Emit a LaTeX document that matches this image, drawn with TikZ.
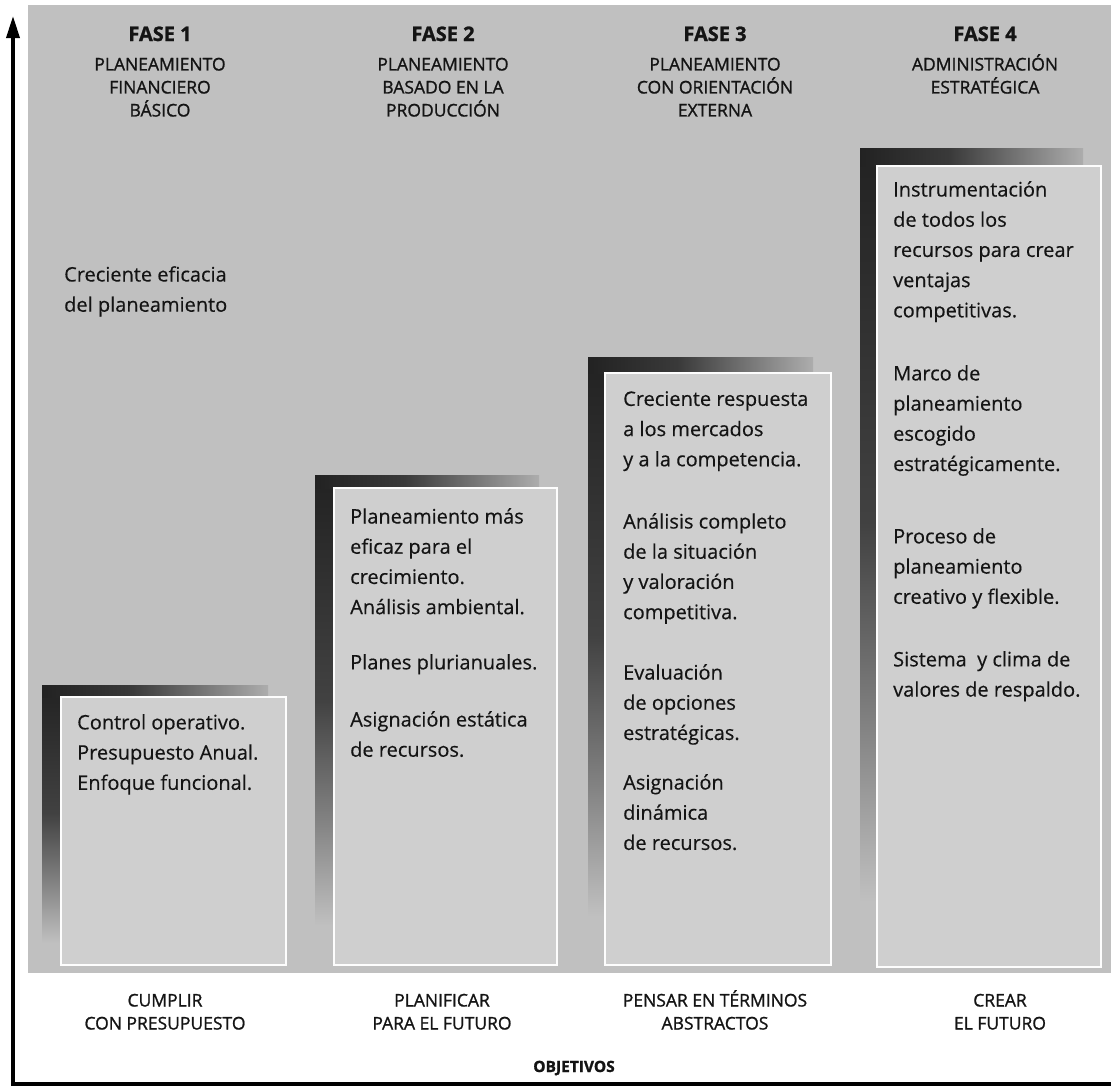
\documentclass[tikz,border=0pt]{standalone}
\usepackage{fontspec}
\setmainfont{Open Sans}
\newfontfamily\bodyfont[FakeBold=0.35]{Open Sans}
\newfontfamily\headfont[FakeBold=1.1]{Open Sans}
\newfontfamily\heavyfont[FakeBold=1.2]{Open Sans Bold}
\usetikzlibrary{arrows.meta}
\definecolor{bg}{RGB}{192,192,192}
\definecolor{boxc}{RGB}{207,207,207}
\definecolor{dk}{RGB}{34,34,34}
\definecolor{txt}{RGB}{20,20,20}
\colorlet{dkA}{dk!40!bg}
\colorlet{dkB}{dk!80!bg}
\colorlet{dkC}{dk!85!bg}
\colorlet{dkD}{dk!12!bg}
\pgfdeclareverticalshading{barv}{100bp}{color(0bp)=(bg); color(29bp)=(bg); color(40bp)=(dkA); color(52bp)=(dkB); color(75bp)=(dk); color(100bp)=(dk)}
\pgfdeclarehorizontalshading{barh}{100bp}{color(0bp)=(dk); color(25bp)=(dk); color(45bp)=(dkC); color(75bp)=(dkD); color(100bp)=(dkD)}
\newcommand\mkstep[6]{%
  \shade[shading=barv] (#1,#2) rectangle (#3,#6);
  \shade[shading=barh] (#1,#2) rectangle ({#5-18},#4);
  \draw[boxst] (#3,#4) rectangle (#5,#6);
}
\tikzset{
  boxst/.style={fill=boxc, draw=white!96!boxc, line width=1.4pt},
  body/.style={anchor=north west, inner sep=0pt, align=left, text=txt,
    font=\bodyfont\fontsize{20}{30.2}\selectfont},
  head/.style={anchor=north, inner sep=0pt, align=center, text=txt,
    font=\headfont\fontsize{17.5}{23}\selectfont},
  fase/.style={anchor=base, inner sep=0pt, text=txt,
    font=\heavyfont\fontsize{20}{22}\selectfont},
  goal/.style={anchor=north, inner sep=0pt, align=center, text=txt,
    font=\headfont\fontsize{17.5}{23}\selectfont},
  axisline/.style={line width=3.5pt, line join=miter, black}
}
\begin{document}
\begin{tikzpicture}[x=1pt, y=-1pt]
\useasboundingbox (0,0) rectangle (1111,1087);
\fill[white] (0,0) rectangle (1111,1087);
% gray panel
\fill[bg] (28,5) rectangle (1111,973);
% steps
\mkstep{42}{685}{61}{697}{286}{965}
\mkstep{315}{475}{334}{488}{557}{965}
\mkstep{588}{357}{605}{373}{831}{965}
\mkstep{860}{148}{877}{166}{1101}{967}
% axes
\coordinate (xend) at (1111,1084);
\coordinate (corner) at (13,1084);
\coordinate (ytop) at (13,16);
\draw[axisline, -{Triangle[length=22pt,width=13pt]}] (xend) -- (corner) -- (ytop);
% headers
\node[fase] (f1) at (160,41) {FASE 1};
\node[fase] (f2) at (443,41) {FASE 2};
\node[fase] (f3) at (715,41) {FASE 3};
\node[fase] (f4) at (985,41) {FASE 4};
\node[head] (h1) at (160,54) {\vphantom{Á}PLANEAMIENTO\\FINANCIERO\\BÁSICO};
\node[head] (h2) at (443,54) {\vphantom{Á}PLANEAMIENTO\\BASADO EN LA\\PRODUCCIÓN};
\node[head] (h3) at (715,54) {\vphantom{Á}PLANEAMIENTO\\CON ORIENTACIÓN\\EXTERNA};
\node[head] (h4) at (985,54) {\vphantom{Á}ADMINISTRACIÓN\\ESTRATÉGICA};
% left text
\node[body] (eff) at (64,266) {Creciente eficacia\\del planeamiento};
% column 1
\node[body] (c1a) at (77,714) {Control operativo.\\Presupuesto Anual.\\Enfoque funcional.};
% column 2
\node[body] (c2a) at (350,508) {Planeamiento más\\eficaz para el\\crecimiento.\\Análisis ambiental.};
\node[body] (c2b) at (350,654) {Planes plurianuales.};
\node[body] (c2c) at (350,711) {Asignación estática\\de recursos.};
% column 3
\node[body] (c3a) at (623,391) {Creciente respuesta\\a los mercados\\y a la competencia.};
\node[body] (c3b) at (623,513) {Análisis completo\\de la situación\\y valoración\\competitiva.};
\node[body] (c3c) at (623,664) {Evaluación\\de opciones\\estratégicas.};
\node[body] (c3d) at (623,774) {Asignación\\dinámica\\de recursos.};
% column 4
\node[body] (c4a) at (893,181) {Instrumentación\\de todos los\\recursos para crear\\ventajas\\competitivas.};
\node[body] (c4b) at (893,365) {Marco de\\planeamiento\\escogido\\estratégicamente.};
\node[body] (c4c) at (893,528) {Proceso de\\planeamiento\\creativo y flexible.};
\node[body] (c4d) at (893,651) {Sistema~ y clima de\\valores de respaldo.};
% goals
\node[goal] (g1) at (165,990) {\vphantom{Á}CUMPLIR\\CON PRESUPUESTO};
\node[goal] (g2) at (442,990) {\vphantom{Á}PLANIFICAR\\PARA EL FUTURO};
\node[goal] (g3) at (715,990) {\vphantom{Á}PENSAR EN TÉRMINOS\\ABSTRACTOS};
\node[goal] (g4) at (1000,990) {\vphantom{Á}CREAR\\EL FUTURO};
\node[anchor=base, inner sep=0pt, text=txt, font=\heavyfont\fontsize{15.5}{18}\selectfont] (obj) at (574,1072) {OBJETIVOS};
\end{tikzpicture}
\end{document}
